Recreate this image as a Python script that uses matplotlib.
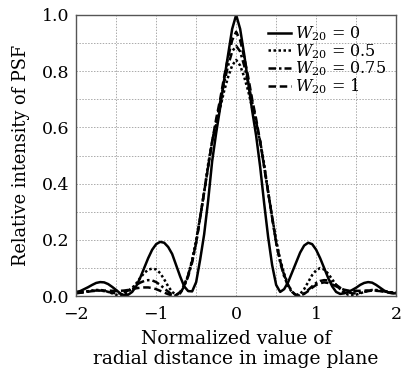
import matplotlib
matplotlib.use("Agg")
import matplotlib.pyplot as plt
import numpy as np

x_vals = [round(-2.0 + 0.05 * i, 2) for i in range(81)]

psf_w0 = [0.015, 0.018, 0.025, 0.032, 0.040, 0.047, 0.050, 0.049, 0.043, 0.033,
          0.022, 0.010, 0.003, 0.005, 0.015, 0.035, 0.065, 0.100, 0.135, 0.165,
          0.185, 0.193, 0.190, 0.175, 0.150, 0.110, 0.070, 0.035, 0.018, 0.017,
          0.050, 0.130, 0.220, 0.340, 0.480, 0.580, 0.670, 0.770, 0.860, 0.950,
          1.000,
          0.950, 0.860, 0.760, 0.660, 0.570, 0.460, 0.330, 0.210, 0.110, 0.040,
          0.015, 0.025, 0.050, 0.085, 0.120, 0.155, 0.180, 0.190, 0.185, 0.165,
          0.135, 0.100, 0.065, 0.035, 0.015, 0.008, 0.010, 0.015, 0.022, 0.030,
          0.040, 0.047, 0.050, 0.048, 0.040, 0.030, 0.020, 0.013, 0.010, 0.010]

psf_w05 = [0.012, 0.013, 0.015, 0.018, 0.020, 0.022, 0.022, 0.020, 0.015, 0.010,
           0.005, 0.003, 0.006, 0.015, 0.028, 0.045, 0.065, 0.082, 0.094, 0.098,
           0.095, 0.082, 0.060, 0.035, 0.015, 0.005, 0.010, 0.035, 0.075, 0.130,
           0.200, 0.280, 0.370, 0.470, 0.550, 0.610, 0.670, 0.730, 0.780, 0.820,
           0.840,
           0.820, 0.780, 0.730, 0.670, 0.610, 0.550, 0.470, 0.370, 0.280, 0.200,
           0.130, 0.080, 0.040, 0.015, 0.005, 0.008, 0.025, 0.050, 0.075, 0.092,
           0.100, 0.095, 0.080, 0.060, 0.040, 0.025, 0.012, 0.005, 0.003, 0.005,
           0.010, 0.015, 0.020, 0.022, 0.022, 0.020, 0.018, 0.015, 0.013, 0.012]

psf_w075 = [0.012, 0.013, 0.015, 0.017, 0.019, 0.020, 0.020, 0.018, 0.015, 0.012,
            0.010, 0.010, 0.014, 0.020, 0.030, 0.040, 0.048, 0.054, 0.057, 0.056,
            0.050, 0.040, 0.028, 0.016, 0.006, 0.002, 0.010, 0.035, 0.070, 0.120,
            0.190, 0.280, 0.370, 0.460, 0.550, 0.620, 0.690, 0.760, 0.820, 0.870,
            0.890,
            0.870, 0.820, 0.760, 0.690, 0.620, 0.550, 0.460, 0.370, 0.280, 0.190,
            0.120, 0.070, 0.035, 0.013, 0.003, 0.002, 0.010, 0.022, 0.035, 0.047,
            0.054, 0.057, 0.056, 0.050, 0.040, 0.030, 0.020, 0.014, 0.010, 0.010,
            0.012, 0.015, 0.018, 0.020, 0.020, 0.019, 0.017, 0.015, 0.013, 0.012]

psf_w1 = [0.010, 0.012, 0.014, 0.016, 0.018, 0.019, 0.020, 0.020, 0.020, 0.019,
          0.019, 0.019, 0.020, 0.022, 0.025, 0.028, 0.030, 0.031, 0.031, 0.029,
          0.025, 0.019, 0.013, 0.007, 0.002, 0.004, 0.015, 0.040, 0.075, 0.125,
          0.190, 0.280, 0.370, 0.460, 0.550, 0.630, 0.700, 0.780, 0.850, 0.910,
          0.940,
          0.910, 0.850, 0.780, 0.700, 0.630, 0.550, 0.460, 0.370, 0.280, 0.190,
          0.125, 0.075, 0.040, 0.015, 0.004, 0.002, 0.008, 0.018, 0.030, 0.040,
          0.046, 0.049, 0.047, 0.042, 0.035, 0.028, 0.023, 0.020, 0.019, 0.019,
          0.019, 0.020, 0.020, 0.020, 0.019, 0.018, 0.016, 0.014, 0.012, 0.010]

labels = [r"$W_{20}$ = 0", r"$W_{20}$ = 0.5", r"$W_{20}$ = 0.75", r"$W_{20}$ = 1"]
x_ticks = [-2, -1, 0, 1, 2]
x_tick_labels = ["\u22122", "\u22121", "0", "1", "2"]
y_ticks = [0.0, 0.2, 0.4, 0.6, 0.8, 1.0]

plt.rcParams['font.family'] = ['DejaVu Serif']
plt.rcParams['mathtext.fontset'] = 'dejavuserif'

fig = plt.figure(figsize=(4.03, 3.73), dpi=100)
ax = fig.add_axes([0.189, 0.206, 0.794, 0.754])

ax.plot(x_vals, psf_w0, color='black', lw=1.8, ls='-', label=labels[0])
ax.plot(x_vals, psf_w05, color='black', lw=1.8, ls=(0, (1, 1)), label=labels[1])
ax.plot(x_vals, psf_w075, color='black', lw=1.8, ls=(0, (3, 1.2, 1, 1.2)), label=labels[2])
ax.plot(x_vals, psf_w1, color='black', lw=1.8, ls=(0, (3, 1.5)), label=labels[3])

ax.set_xlim(-2, 2)
ax.set_ylim(0, 1.0)
ax.set_xticks(x_ticks)
ax.set_xticklabels(x_tick_labels)
ax.set_yticks(y_ticks)
ax.set_yticklabels([f"{v:.1f}" for v in y_ticks])
ax.set_xticks(np.arange(-2, 2.01, 0.5), minor=True)
ax.set_yticks(np.arange(0, 1.01, 0.1), minor=True)
ax.grid(True, which='both', ls=(0, (1.5, 1.5)), color='#aaaaaa', lw=0.7)
ax.tick_params(which='both', length=0, labelsize=12.5)
ax.tick_params(axis='x', pad=7)
ax.tick_params(axis='y', pad=5)

for s in ax.spines.values():
    s.set_color('#555555')
    s.set_linewidth(1.0)

ax.set_xlabel("Normalized value of\nradial distance in image plane", fontsize=13.5,
              labelpad=5, linespacing=1.15)
ax.set_ylabel("Relative intensity of PSF", fontsize=12.8, labelpad=8)

leg = ax.legend(loc='upper right', frameon=False, fontsize=11.5, handlelength=1.4,
                handletextpad=0.3, labelspacing=-0.08, borderaxespad=0.2,
                bbox_to_anchor=(1.0, 1.0))

fig.savefig("out.png", dpi=100)
